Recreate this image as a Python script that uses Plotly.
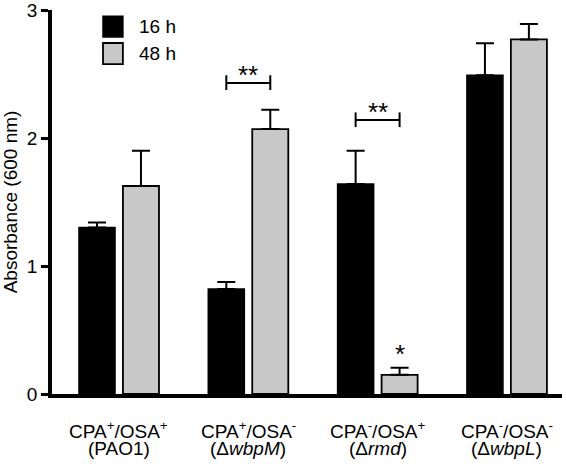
import plotly.graph_objects as go

categories_line1 = ["CPA<sup>+</sup>/OSA<sup>+</sup>", "CPA<sup>+</sup>/OSA<sup>-</sup>",
                    "CPA<sup>-</sup>/OSA<sup>+</sup>", "CPA<sup>-</sup>/OSA<sup>-</sup>"]
categories_line2 = ["(PAO1)", "(Δ<i>wbpM</i>)", "(Δ<i>rmd</i>)", "(Δ<i>wbpL</i>)"]
series_names = ["16 h", "48 h"]
values_16h = [1.30, 0.82, 1.64, 2.49]
errors_16h = [0.04, 0.055, 0.26, 0.25]
values_48h = [1.625, 2.07, 0.15, 2.77]
errors_48h = [0.275, 0.15, 0.055, 0.12]
y_ticks = [0, 1, 2, 3]

FONT = "Liberation Sans, Arial, Helvetica, sans-serif"
x = list(range(len(categories_line1)))
OFF = 0.17

fig = go.Figure()
fig.add_trace(go.Bar(
    x=x, y=values_16h, name=series_names[0],
    marker=dict(color="#000000", line=dict(color="#000000", width=1.5)),
    error_y=dict(type="data", symmetric=False, array=errors_16h,
                 arrayminus=[0] * len(errors_16h), color="#000000", thickness=2, width=9),
    showlegend=False))
fig.add_trace(go.Bar(
    x=x, y=values_48h, name=series_names[1],
    marker=dict(color="#c8c8c8", line=dict(color="#000000", width=1.8)),
    error_y=dict(type="data", symmetric=False, array=errors_48h,
                 arrayminus=[0] * len(errors_48h), color="#000000", thickness=2, width=9),
    showlegend=False))

shapes = []
# significance brackets
for gi, yb in [(1, 2.43), (2, 2.14)]:
    shapes.append(dict(type="line", xref="x", yref="y", x0=gi - OFF, x1=gi + OFF, y0=yb, y1=yb,
                       line=dict(color="black", width=2)))
    for xe in (gi - OFF, gi + OFF):
        shapes.append(dict(type="line", xref="x", yref="y", x0=xe, x1=xe, y0=yb - 0.055, y1=yb + 0.06,
                           line=dict(color="black", width=2)))

# legend squares
shapes.append(dict(type="rect", xref="paper", yref="paper", x0=0.100, x1=0.139, y0=0.930, y1=0.984,
                   fillcolor="#000000", line=dict(color="#000000", width=1.5)))
shapes.append(dict(type="rect", xref="paper", yref="paper", x0=0.100, x1=0.139, y0=0.859, y1=0.914,
                   fillcolor="#c8c8c8", line=dict(color="#000000", width=1.8)))

annotations = []
for i in x:
    annotations.append(dict(x=i, y=-0.095, xref="x", yref="paper", text=categories_line1[i],
                            showarrow=False, yanchor="middle", font=dict(size=19, color="black")))
    annotations.append(dict(x=i, y=-0.142, xref="x", yref="paper", text=categories_line2[i],
                            showarrow=False, yanchor="middle", font=dict(size=19, color="black")))
annotations.append(dict(x=1, y=2.36, xref="x", yref="y", text="**", showarrow=False,
                        yanchor="bottom", font=dict(size=26, color="black")))
annotations.append(dict(x=2, y=2.07, xref="x", yref="y", text="**", showarrow=False,
                        yanchor="bottom", font=dict(size=26, color="black")))
annotations.append(dict(x=2 + OFF, y=0.18, xref="x", yref="y", text="*", showarrow=False,
                        yanchor="bottom", font=dict(size=26, color="black")))
annotations.append(dict(x=0.1667, y=0.957, xref="paper", yref="paper", text=series_names[0],
                        showarrow=False, xanchor="left", yanchor="middle", font=dict(size=19, color="black")))
annotations.append(dict(x=0.1667, y=0.886, xref="paper", yref="paper", text=series_names[1],
                        showarrow=False, xanchor="left", yanchor="middle", font=dict(size=19, color="black")))

fig.update_layout(
    width=566, height=468,
    margin=dict(l=52, r=4, t=10, b=74),
    paper_bgcolor="white", plot_bgcolor="white",
    font=dict(family=FONT, size=19, color="black"),
    barmode="group", bargap=0.32, bargroupgap=0.18,
    shapes=shapes, annotations=annotations,
    showlegend=False,
)
fig.update_xaxes(range=[-0.518, 3.426], showline=True, linewidth=4, linecolor="black",
                 showticklabels=False, ticks="", showgrid=False, zeroline=False, fixedrange=True,
                 automargin=False)
fig.update_yaxes(range=[0, 3], tickvals=y_ticks, ticks="outside", ticklen=7, tickwidth=3,
                 tickcolor="black", showline=True, linewidth=3.5, linecolor="black",
                 showgrid=False, zeroline=False, automargin=False, ticklabeloverflow="allow",
                 tickfont=dict(size=19, color="black"),
                 title=dict(text="Absorbance (600 nm)", font=dict(size=19, color="black"), standoff=10))

# remove the page's default body margin so the figure fills the window exactly
fig.write_html("out.html", config={"displayModeBar": False},
               post_script="document.body.style.margin='0';")
